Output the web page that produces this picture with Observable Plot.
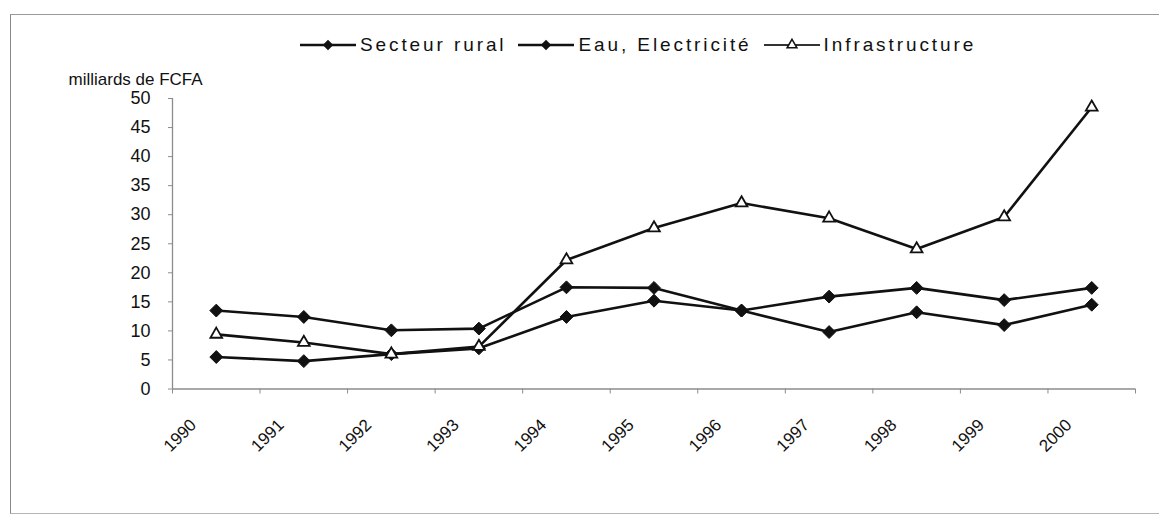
<!DOCTYPE html>
<html>
<head>
<meta charset="utf-8">
<script src="https://cdn.jsdelivr.net/npm/d3@7"></script>
<script src="https://cdn.jsdelivr.net/npm/@observablehq/plot@0.6"></script>
<style>
  html, body { margin: 0; padding: 0; background: #fff; }
  #wrap { position: relative; width: 1161px; height: 515px; overflow: hidden; font-family: "Liberation Sans", Arial, sans-serif; color: #111; }
  #frame { position: absolute; left: 10px; top: 14px; width: 1148px; height: 498px; border-top: 1.5px solid #9a9a9a; border-left: 1.5px solid #8a8a8a; border-bottom: 1.5px solid #b5b5b5; pointer-events: none; }
  #legend { position: absolute; top: 34px; left: 300px; display: flex; align-items: center; font-size: 19px; letter-spacing: 2.9px; white-space: nowrap; }
  #legend .item { display: flex; align-items: center; margin-right: 12px; }
  #legend svg { margin-right: 4px; }
  #chart { position: absolute; left: 0; top: 0; }
</style>
</head>
<body>
<div id="wrap">
  <div id="frame"></div>
  <div id="chart"></div>
  <div id="legend"></div>
</div>
<script>
// ---- data ----
const years = [1990, 1991, 1992, 1993, 1994, 1995, 1996, 1997, 1998, 1999, 2000];
const secteurRural   = [13.5, 12.4, 10.1, 10.4, 17.5, 17.4, 13.5, 15.9, 17.4, 15.3, 17.4];
const eauElectricite = [5.5, 4.8, 6.0, 7.0, 12.4, 15.2, 13.5, 9.8, 13.2, 11.0, 14.5];
const infrastructure = [9.4, 8.0, 6.0, 7.3, 22.2, 27.7, 32.0, 29.4, 24.1, 29.6, 48.5];
const seriesNames = ["Secteur rural", "Eau, Electricité", "Infrastructure"];
const yTicks = [0, 5, 10, 15, 20, 25, 30, 35, 40, 45, 50];
const yLabel = "milliards de FCFA";

const seriesValues = [secteurRural, eauElectricite, infrastructure];
const rows = [];
seriesValues.forEach((vals, s) => vals.forEach((v, i) => rows.push({series: seriesNames[s], year: years[i], value: v})));
const diamondRows = rows.filter(d => d.series !== "Infrastructure");
const triangleRows = rows.filter(d => d.series === "Infrastructure");
const boundaries = [...years.map(y => y - 0.5), years[years.length - 1] + 0.5];

const ink = "#111";
const axisGray = "#8c8c8c";

const chart = Plot.plot({
  width: 1161,
  height: 515,
  marginLeft: 172,
  marginRight: 26,
  marginTop: 98,
  marginBottom: 126.5,
  style: {fontFamily: "Liberation Sans, Arial, sans-serif", background: "transparent", color: ink},
  x: {type: "linear", domain: [boundaries[0], boundaries[boundaries.length - 1]]},
  y: {domain: [0, 50]},
  marks: [
    Plot.axisX({ticks: boundaries, tickSize: 5, tickFormat: () => "", stroke: axisGray, label: null}),
    Plot.axisY({ticks: yTicks, tickSize: 4, tickPadding: 18, fontSize: 18, letterSpacing: 1, label: null, stroke: axisGray, fill: ink}),
    Plot.ruleY([0], {stroke: axisGray, strokeWidth: 1.3}),
    Plot.ruleX([boundaries[0]], {y1: 0, y2: 50, stroke: axisGray, strokeWidth: 1.3}),
    Plot.text([yLabel], {frameAnchor: "top-left", dx: -104, dy: -19, textAnchor: "start", lineAnchor: "middle", fontSize: 17, fill: ink}),
    Plot.text(years, {x: d => d, y: 0, text: d => String(d), rotate: -45, textAnchor: "end", lineAnchor: "bottom", dx: -19, dy: 37, fontSize: 17, fill: ink}),
    Plot.line(rows, {x: "year", y: "value", z: "series", stroke: ink, strokeWidth: 2.6}),
    Plot.dot(diamondRows, {x: "year", y: "value", symbol: "diamond2", fill: ink, stroke: ink, strokeWidth: 1, r: 5.8}),
    Plot.dot(triangleRows, {x: "year", y: "value", symbol: "triangle2", fill: "white", stroke: ink, strokeWidth: 1.8, r: 5.6})
  ]
});
document.getElementById("chart").appendChild(chart);

// ---- legend ----
const legend = d3.select("#legend");
seriesNames.forEach((name, i) => {
  const item = legend.append("div").attr("class", "item");
  const svg = item.append("svg").attr("width", 56).attr("height", 16);
  svg.append("line").attr("x1", 0).attr("x2", 56).attr("y1", 8).attr("y2", 8)
    .attr("stroke", i === 2 ? "#333" : ink).attr("stroke-width", i === 2 ? 2 : 2.6);
  if (i < 2) {
    svg.append("path").attr("d", d3.symbol(d3.symbolDiamond2, 70)()).attr("transform", "translate(28,8)").attr("fill", ink);
  } else {
    svg.append("path").attr("d", d3.symbol(d3.symbolTriangle2, 70)()).attr("transform", "translate(28,8)").attr("fill", "white").attr("stroke", ink).attr("stroke-width", 1.5);
  }
  item.append("span").text(name);
});
</script>
</body>
</html>
